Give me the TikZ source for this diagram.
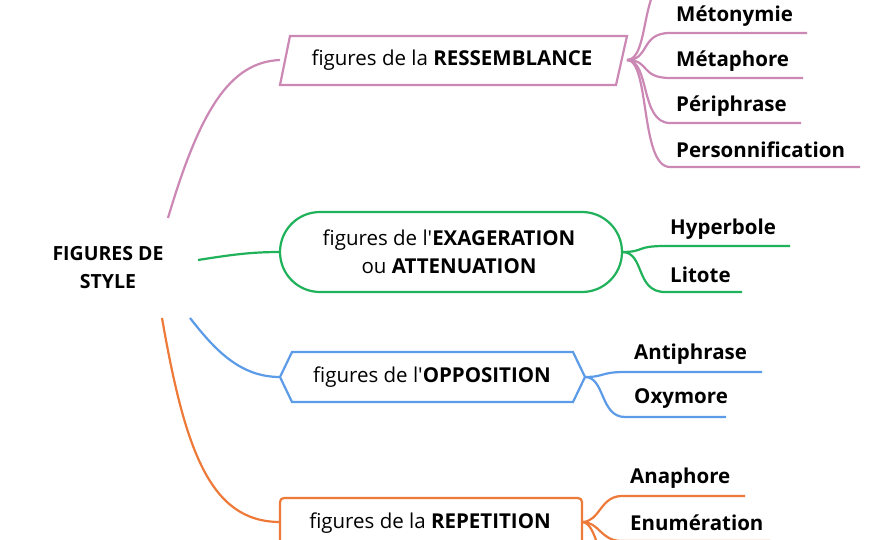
\documentclass[tikz,border=0pt]{standalone}
\usepackage{fontspec}
\setmainfont{Open Sans}
\definecolor{cpink}{HTML}{CC88B4}
\definecolor{cgreen}{HTML}{1FB25A}
\definecolor{cblue}{HTML}{5B9BE8}
\definecolor{corange}{HTML}{EE7A3A}
\begin{document}
\begin{tikzpicture}[x=1pt,y=-1pt,
  lbl/.style={anchor=west,font=\fontsize{20.5}{24}\selectfont\bfseries,inner sep=0pt},
  boxt/.style={font=\fontsize{20.5}{28}\selectfont,align=center,inner sep=0pt},
  ln/.style={line width=2.2pt}]
\useasboundingbox (0,0) rectangle (880,540);
\clip (0,0) rectangle (880,540);
\fill[white] (0,0) rectangle (880,540);
\node[font=\fontsize{19.5}{28}\selectfont\bfseries,align=center] (root) at (108,268) {FIGURES DE\\STYLE};
\coordinate (rp) at (168,218); \coordinate (rg) at (198,260);
\coordinate (rb) at (190,318); \coordinate (ro) at (162,318);
% pink
\draw[cpink,ln] (290,36) -- (627,36) -- (616,85) -- (280,85) -- cycle;
\node[boxt] (bp) at (452,60) {figures de la \textbf{RESSEMBLANCE}};
\coordinate (pl) at (280,60); \coordinate (pr) at (627,60);
\draw[cpink,ln] (rp) .. controls (200,110) and (230,62) .. (pl);
\foreach \y/\e/\t/\n in {-20/700/{}/p0, 33/807/Métonymie/p1, 78/803/Métaphore/p2, 123/801/Périphrase/p3, 167/860/Personnification/p4}{
  \coordinate (\n) at (\e,\y);
  \draw[cpink,ln] (pr) .. controls (650,60) and (640,\y) .. (670,\y) -- (\n);
  \node[lbl] at (676,\y-17) {\t};
}
% green
\draw[cgreen,ln,rounded corners=40] (280,212) rectangle (622,292);
\node[boxt] (bg) at (449,252) {figures de l\textquotesingle\textbf{EXAGERATION}\\ou \textbf{ATTENUATION}};
\coordinate (gl) at (280,252); \coordinate (gr) at (622,252);
\draw[cgreen,ln] (rg) .. controls (230,255) and (250,252) .. (gl);
\foreach \y/\e/\t/\n in {246/790/Hyperbole/g1, 292/742/Litote/g2}{
  \coordinate (\n) at (\e,\y);
  \draw[cgreen,ln] (gr) .. controls (645,252) and (635,\y) .. (665,\y) -- (\n);
  \node[lbl] at (670,\y-17) {\t};
}
% blue
\draw[cblue,ln] (280,377) -- (292,352) -- (573,352) -- (585,377) -- (573,402) -- (292,402) -- cycle;
\node[boxt] (bb) at (432,377) {figures de l\textquotesingle\textbf{OPPOSITION}};
\coordinate (bl) at (280,377); \coordinate (br) at (585,377);
\draw[cblue,ln] (rb) .. controls (215,350) and (240,377) .. (bl);
\foreach \y/\e/\t/\n in {372/762/Antiphrase/b1, 417/726/Oxymore/b2}{
  \coordinate (\n) at (\e,\y);
  \draw[cblue,ln] (br) .. controls (605,377) and (600,\y) .. (625,\y) -- (\n);
  \node[lbl] at (634,\y-18) {\t};
}
% orange
\draw[corange,ln,rounded corners=4] (280,498) rectangle (582,570);
\node[boxt] (bo) at (430,523) {figures de la \textbf{REPETITION}};
\coordinate (ol) at (280,522); \coordinate (or) at (582,522);
\draw[corange,ln] (ro) .. controls (185,450) and (210,522) .. (ol);
\foreach \y/\e/\t/\n in {496/745/Anaphore/o1, 541/770/Enumération/o2, 586/760/{}/o3}{
  \coordinate (\n) at (\e,\y);
  \draw[corange,ln] (or) .. controls (600,522) and (600,\y) .. (622,\y) -- (\n);
  \node[lbl] at (630,\y-18) {\t};
}
\end{tikzpicture}
\end{document}
